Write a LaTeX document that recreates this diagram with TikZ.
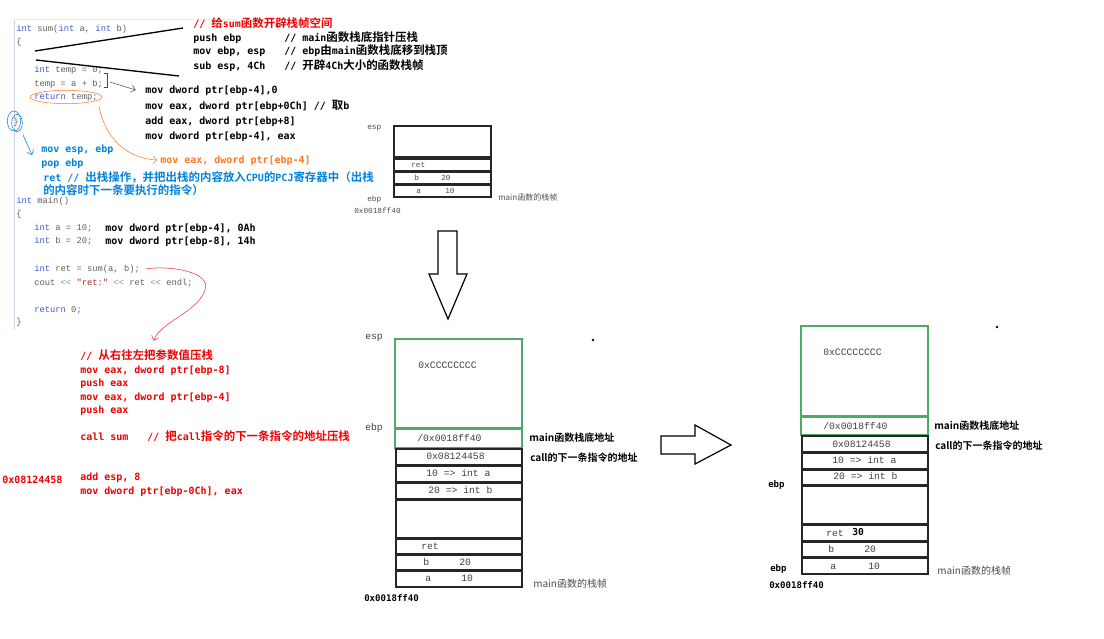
\documentclass[tikz,border=0pt]{standalone}
\usepackage{fontspec}
\setmainfont{Liberation Serif}
\setmonofont{DejaVu Sans Mono}
\newfontfamily\codefont{Liberation Mono}
\newfontfamily\cjk[BoldFont={Noto Sans CJK SC Bold}]{Noto Sans CJK SC}
\usetikzlibrary{arrows.meta}

\definecolor{codegray}{RGB}{95,95,95}
\definecolor{kwblue}{RGB}{60,90,205}
\definecolor{strred}{RGB}{170,40,40}
\definecolor{opgray}{RGB}{100,150,175}
\definecolor{asmred}{RGB}{240,0,0}
\definecolor{asmblue}{RGB}{0,130,220}
\definecolor{asmorange}{RGB}{255,120,30}
\definecolor{framegreen}{RGB}{80,170,100}
\definecolor{linegray}{RGB}{205,212,228}

\newcommand{\zh}[1]{{\cjk\fontsize{8.6pt}{10pt}\selectfont #1}}
\newcommand{\kw}[1]{\textcolor{kwblue}{#1}}
\newcommand{\op}[1]{\textcolor{opgray}{#1}}
\newcommand{\str}[1]{\textcolor{strred}{#1}}

\tikzset{
	code/.style={font=\codefont\fontsize{6.6pt}{8pt}\selectfont, text=codegray, anchor=west, inner sep=0pt, text height=5pt, text depth=1.5pt},
	asm/.style={font=\ttfamily\bfseries\fontsize{7.5pt}{9pt}\selectfont, anchor=west, inner sep=0pt, text height=6pt, text depth=1.5pt},
	lbl/.style={font=\codefont\fontsize{7.3pt}{8pt}\selectfont, text=black!75, anchor=west, inner sep=0pt, text height=5pt, text depth=1.5pt},
	lblsmall/.style={font=\codefont\fontsize{5.8pt}{7pt}\selectfont, text=black!70, anchor=west, inner sep=0pt, text height=4pt, text depth=1pt},
	note/.style={font=\cjk\bfseries\fontsize{7.5pt}{9pt}\selectfont, anchor=west, inner sep=0pt, text height=6pt, text depth=1.5pt},
	frametag/.style={font=\cjk\fontsize{7.5pt}{9pt}\selectfont, text=black!70, anchor=west, inner sep=0pt},
	regtag/.style={font=\ttfamily\bfseries\fontsize{6.8pt}{8pt}\selectfont, anchor=west, inner sep=0pt},
	cellbox/.style={draw=black!85, line width=1.1pt},
	greenbox/.style={draw=framegreen, line width=1.1pt},
	bigarrow/.style={draw, line width=0.9pt, line join=miter},
	>={Straight Barb[length=3pt,width=5.5pt]}
}

\begin{document}
\begin{tikzpicture}[x=0.75pt, y=-0.75pt]
	\useasboundingbox (0,0) rectangle (1104,639);

	% source code of sum and main
	\draw[linegray] (14,19) -- (14,330);
	\draw[linegray!50] (14,19) -- (236,19);
	\node[code] (sumsig) at (16,29) {\kw{int} sum(\kw{int} a, \kw{int} b)};
	\node[code] (lbrace1) at (16,42) {\{};
	\node[code] (tmp0) at (34,70) {\kw{int} temp = 0;};
	\node[code] (tmpab) at (34,84) {temp = a + b;};
	\node[code] (rettmp) at (34,97) {\kw{return} temp;};
	\node[code] (rbrace1) at (13,122) {\}};
	\node[code] (mainsig) at (16,201) {\kw{int} main()};
	\node[code] (lbrace2) at (16,214) {\{};
	\node[code] (inta) at (34,228) {\kw{int} a = 10;};
	\node[code] (intb) at (34,241) {\kw{int} b = 20;};
	\node[code] (intret) at (34,269) {\kw{int} ret = sum(a, b);};
	\node[code] (cout) at (34,283) {cout \op{<<} \str{"ret:"} \op{<<} ret \op{<<} endl;};
	\node[code] (ret0) at (34,310) {\kw{return} 0;};
	\node[code] (rbrace2) at (16,322) {\}};

	% prologue of sum
	\node[asm, text=asmred] (c0) at (193,24) {// \zh{给}sum\zh{函数开辟栈帧空间}};
	\node[asm] (c1) at (193,38) {push ebp};
	\node[asm] (c1n) at (284,38) {// main\zh{函数栈底指针压栈}};
	\node[asm] (c2) at (193,52) {mov ebp, esp};
	\node[asm] (c2n) at (284,52) {// ebp\zh{由}main\zh{函数栈底移到栈顶}};
	\node[asm] (c3) at (193,66) {sub esp, 4Ch};
	\node[asm] (c3n) at (284,66) {// \zh{开辟}4Ch\zh{大小的函数栈帧}};
	\coordinate (fanA) at (35,51);
	\coordinate (fanB) at (36,60);
	\draw[line width=1pt] (fanA) -- ([shift={(-10,4)}]c0.west);
	\draw[line width=1pt] (fanB) -- ([shift={(-14,10)}]c3.west);

	% body of sum
	\node[asm] (s1) at (145,90) {mov dword ptr[ebp-4],0};
	\node[asm] (s2) at (145,106) {mov eax, dword ptr[ebp+0Ch] // \zh{取}b};
	\node[asm] (s3) at (145,121) {add eax, dword ptr[ebp+8]};
	\node[asm] (s4) at (145,136) {mov dword ptr[ebp-4], eax};
	\node[asm, text=asmorange] (s5) at (160,160) {mov eax, dword ptr[ebp-4]};
	\draw[black!70] (104,73) -- (107,73) -- (107,87) -- (104,87);
	\coordinate (brk) at (110,82);
	\draw[black!70, ->] (brk) -- ([xshift=-7pt]s1.west);
	\draw[asmorange] (rettmp.center) ellipse (27pt and 5pt);
	\draw[asmorange, ->] ([shift={(1,4)}]rettmp.south east) .. controls (103,130) and (120,158) .. ([xshift=-2pt]s5.west);

	% epilogue of sum
	\node[asm, text=asmblue] (b1) at (41,149) {mov esp, ebp};
	\node[asm, text=asmblue] (b2) at (41,163) {pop ebp};
	\node[asm, text=asmblue] (b3) at (43,178) {ret // \zh{出栈操作，并把出栈的内容放入}CPU\zh{的}PCJ\zh{寄存器中（出栈}};
	\node[asm, text=asmblue] (b4) at (43,191) {\zh{的内容时下一条要执行的指令）}};
	\draw[asmblue] (14,121) ellipse (5pt and 7.5pt);
	\draw[asmblue] (17,123) ellipse (4pt and 6.5pt);
	\draw[asmblue, ->] ([shift={(7,8)}]rbrace1.south) -- ([shift={(-9,6)}]b1.west);

	% main
	\node[asm] (movA) at (105,228) {mov dword ptr[ebp-4], 0Ah};
	\node[asm] (movB) at (105,241) {mov dword ptr[ebp-8], 14h};
	\node[asm, text=asmred] (r0) at (80,356) {// \zh{从右往左把参数值压栈}};
	\node[asm, text=asmred] (r1) at (80,370) {mov eax, dword ptr[ebp-8]};
	\node[asm, text=asmred] (r2) at (80,383) {push eax};
	\node[asm, text=asmred] (r3) at (80,397) {mov eax, dword ptr[ebp-4]};
	\node[asm, text=asmred] (r4) at (80,410) {push eax};
	\node[asm, text=asmred] (r5) at (80,437) {call sum};
	\node[asm, text=asmred] (r5n) at (147,437) {// \zh{把}call\zh{指令的下一条指令的地址压栈}};
	\node[asm, text=asmred] (retaddr) at (2,480) {0x08124458};
	\node[asm, text=asmred] (r6) at (80,477) {add esp, 8};
	\node[asm, text=asmred] (r7) at (80,491) {mov dword ptr[ebp-0Ch], eax};
	\draw[asmred!80, ->] ([xshift=4pt]intret.east) .. controls (170,265) and (212,272) .. (205,290) .. controls (198,312) and (160,322) .. ([shift={(7,-10)}]r0.north);

	% stack of main
	\draw[cellbox, line width=0.9pt] (394,126) rectangle (491,157);
	\draw[cellbox, line width=0.9pt] (394,159) rectangle (491,171);
	\draw[cellbox, line width=0.9pt] (394,172) rectangle (491,184);
	\draw[cellbox, line width=0.9pt] (394,185) rectangle (491,197);
	\node[lblsmall] (tesp) at (367,127) {esp};
	\node[lblsmall] (tret) at (411,165) {ret};
	\node[lblsmall] (tb) at (414,178) {b};
	\node[lblsmall] (tbv) at (441,178) {20};
	\node[lblsmall] (ta) at (416,191) {a};
	\node[lblsmall] (tav) at (445,191) {10};
	\node[lblsmall] (tebp) at (367,199) {ebp};
	\node[lblsmall] (tbase) at (354,211) {0x0018ff40};
	\node[frametag, font=\cjk\fontsize{6pt}{7pt}\selectfont] (tframe) at (498,197) {main函数的栈帧};

	\draw[bigarrow] (438,231) -- (457,231) -- (457,274) -- (467,274) -- (448,319) -- (429,274) -- (438,274) -- cycle;

	% stack after call and prologue
	\draw[greenbox] (395,339) rectangle (522,428);
	\draw[greenbox] (395,429) rectangle (522,448);
	\draw[cellbox] (396,449) rectangle (522,465);
	\draw[cellbox] (396,466) rectangle (522,482);
	\draw[cellbox] (396,483) rectangle (522,499);
	\draw[cellbox] (396,500) rectangle (522,538);
	\draw[cellbox] (396,539) rectangle (522,554);
	\draw[cellbox] (396,555) rectangle (522,570);
	\draw[cellbox] (396,571) rectangle (522,587);
	\node[lbl] (mesp) at (365,337) {esp};
	\node[lbl] (mebp) at (365,428) {ebp};
	\node[lbl] (mcc) at (418,366) {0xCCCCCCCC};
	\node[lbl] (mold) at (417,439) {/0x0018ff40};
	\node[lbl] (mnext) at (426,457) {0x08124458};
	\node[lbl] (mpa) at (426,474) {10 => int a};
	\node[lbl] (mpb) at (428,491) {20 => int b};
	\node[lbl] (mret) at (421,547) {ret};
	\node[lbl] (mb) at (423,563) {b};
	\node[lbl] (mbv) at (459,563) {20};
	\node[lbl] (ma) at (425,579) {a};
	\node[lbl] (mav) at (461,579) {10};
	\node[note] (mnote1) at (529,438) {main函数栈底地址};
	\node[note] (mnote2) at (530,458) {call的下一条指令的地址};
	\node[frametag] (mframe) at (533,584) {main函数的栈帧};
	\node[regtag] (mbase) at (364,598) {0x0018ff40};
	\fill (593,340) circle (1pt);

	\draw[bigarrow] (661,436) -- (695,436) -- (695,425) -- (731,445) -- (695,464) -- (695,454) -- (661,454) -- cycle;

	% stack after sum returns
	\draw[greenbox] (801,326) rectangle (928,416);
	\draw[greenbox] (801,417) rectangle (928,435);
	\draw[cellbox] (802,436) rectangle (928,452);
	\draw[cellbox] (802,453) rectangle (928,469);
	\draw[cellbox] (802,470) rectangle (928,485);
	\draw[cellbox] (802,486) rectangle (928,524);
	\draw[cellbox] (802,525) rectangle (928,541);
	\draw[cellbox] (802,542) rectangle (928,557);
	\draw[cellbox] (802,558) rectangle (928,574);
	\node[lbl] (rcc) at (823,353) {0xCCCCCCCC};
	\node[lbl] (rold) at (823,427) {/0x0018ff40};
	\node[lbl] (rnext) at (832,445) {0x08124458};
	\node[lbl] (rpa) at (832,461) {10 => int a};
	\node[lbl] (rpb) at (833,477) {20 => int b};
	\node[lbl] (rret) at (826,534) {ret};
	\node[regtag, font=\ttfamily\bfseries\fontsize{7.2pt}{8pt}\selectfont] (rretv) at (852,532) {30};
	\node[lbl] (rb) at (828,550) {b};
	\node[lbl] (rbv) at (864,550) {20};
	\node[lbl] (ra) at (830,567) {a};
	\node[lbl] (rav) at (868,567) {10};
	\node[regtag] (rebp1) at (768,485) {ebp};
	\node[regtag] (rebp2) at (770,569) {ebp};
	\node[regtag] (rbase) at (769,585) {0x0018ff40};
	\node[note] (rnote1) at (934,426) {main函数栈底地址};
	\node[note] (rnote2) at (935,446) {call的下一条指令的地址};
	\node[frametag] (rframe) at (937,571) {main函数的栈帧};
	\fill (997,327) circle (1pt);
\end{tikzpicture}
\end{document}
